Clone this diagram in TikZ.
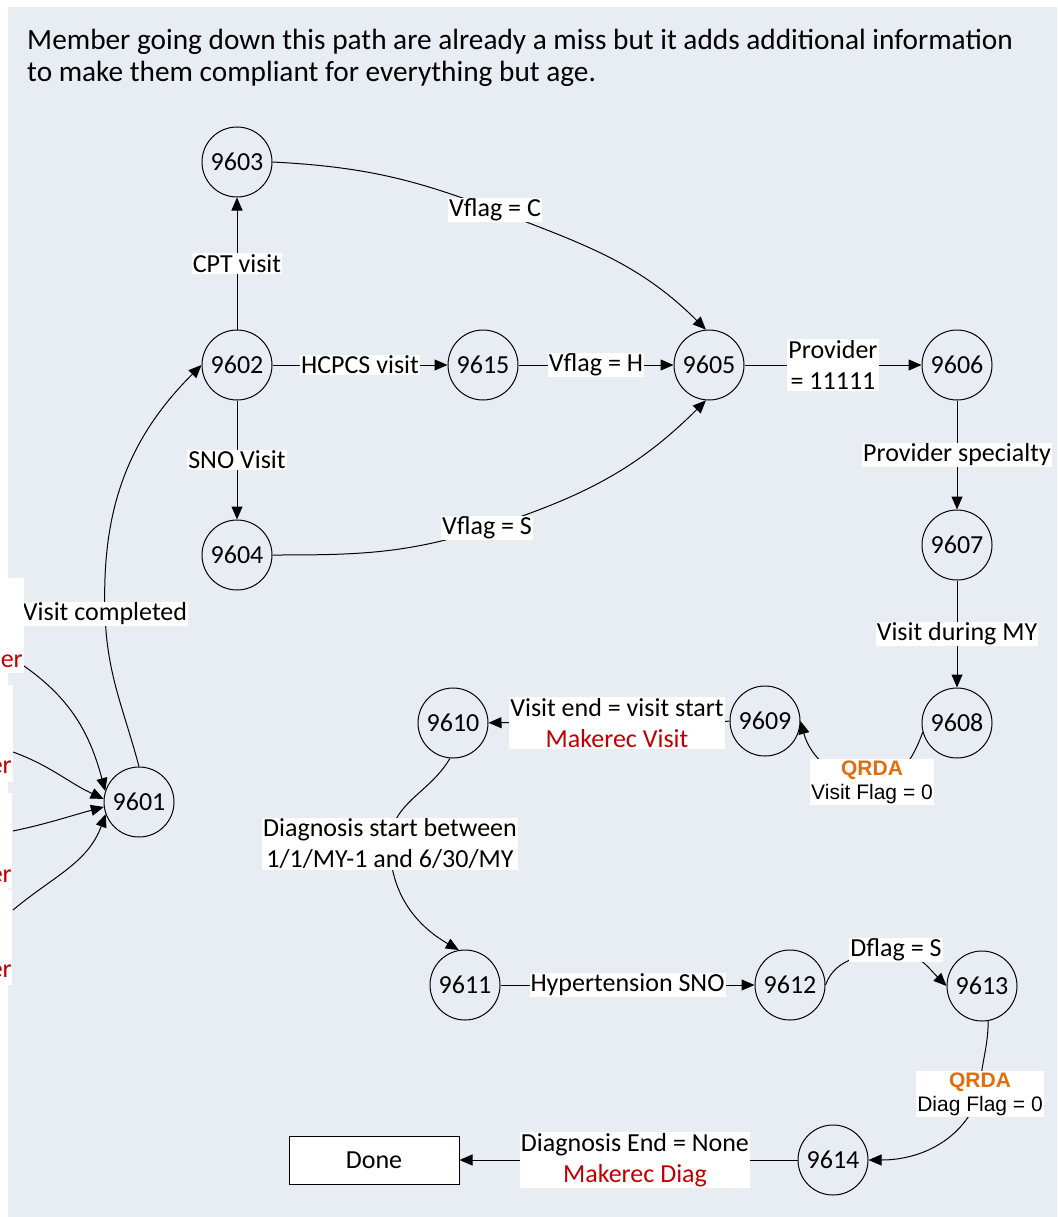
\documentclass[tikz,border=0pt]{standalone}
\usepackage{fontspec}
\setmainfont{Carlito}
\newfontfamily\arialf{Liberation Sans}
\usetikzlibrary{arrows.meta}
\definecolor{bgc}{HTML}{E8EDF4}
\definecolor{redt}{HTML}{C00000}
\definecolor{orq}{HTML}{E46C0A}
\begin{document}
\begin{tikzpicture}[x=1pt,y=1pt,
  state/.style={circle,draw,line width=1pt,minimum size=70pt,inner sep=0pt,font=\fontsize{26}{30}\selectfont},
  lab/.style={fill=white,inner sep=1pt,font=\fontsize{26}{31}\selectfont,align=center},
  qlab/.style={fill=white,inner sep=1.5pt,font=\arialf\fontsize{21}{24}\selectfont,align=center},
  arr/.style={-{Triangle[length=13pt,width=11pt]},line width=1pt},
  frag/.style={fill=white,inner sep=0pt,anchor=north west},
  fragtxt/.style={anchor=base east,inner sep=0pt,text=redt,font=\fontsize{26}{30}\selectfont}]
\useasboundingbox (0,0) rectangle (1057,-1217);
\fill[white] (0,0) rectangle (1057,-1217);
\fill[bgc] (8,-7) rectangle (1057,-1217);

\node[anchor=base west,align=left,inner sep=0pt,font=\fontsize{29.3}{32}\selectfont] (intro) at (27,-82)
  {Member going down this path are already a miss but it adds additional information\\to make them compliant for everything but age.};

% states
\node[state] (n9603) at (237,-162) {9603};
\node[state] (n9602) at (237,-365) {9602};
\node[state] (n9604) at (237,-555) {9604};
\node[state] (n9615) at (483,-365) {9615};
\node[state] (n9605) at (709,-365) {9605};
\node[state] (n9606) at (957,-365) {9606};
\node[state] (n9607) at (957,-545) {9607};
\node[state] (n9608) at (957,-723) {9608};
\node[state] (n9609) at (765,-721) {9609};
\node[state] (n9610) at (453,-723) {9610};
\node[state] (n9601) at (139,-802) {9601};
\node[state] (n9611) at (465,-985) {9611};
\node[state] (n9612) at (790,-985) {9612};
\node[state] (n9613) at (982,-986) {9613};
\node[state] (n9614) at (833,-1160) {9614};
\node[draw,fill=white,line width=1pt,minimum width=170pt,minimum height=48pt,inner sep=0pt,
  font=\fontsize{26}{30}\selectfont] (done) at (374,-1160) {Done};

% label positions
\coordinate (cvc) at (495,-210);
\coordinate (cvs) at (487,-528);
\coordinate (cvcomp) at (105,-614);
\coordinate (cqv) at (872,-782);
\coordinate (cds) at (390,-844);
\coordinate (cdf) at (896,-950);
\coordinate (cqd) at (980,-1094);
\coordinate (sA) at (24,-666);
\coordinate (sB) at (13,-752);
\coordinate (sC) at (13,-831);
\coordinate (sD) at (13,-910);

% straight edges
\draw[arr] (n9602) -- node[lab] (lcpt) {CPT visit} (n9603);
\draw[arr] (n9602) -- node[lab] (lhc) {HCPCS visit} (n9615);
\draw[arr] (n9602) -- node[lab] (lsno) {SNO Visit} (n9604);
\draw[arr] (n9615) -- node[lab] (lvh) {Vflag = H} (n9605);
\draw[arr] (n9605) -- node[lab] (lprov) {Provider\\= 11111} (n9606);
\draw[arr] (n9606) -- node[lab] (lspec) {Provider specialty} (n9607);
\draw[arr] (n9607) -- node[lab] (lmy) {Visit during MY} (n9608);
\draw[arr] (n9611) -- node[lab] (lhyp) {Hypertension SNO} (n9612);
\draw[arr] (n9609) -- (n9610);
\draw[arr] (n9614) -- (done);

% curved edges
\draw[arr] (n9603.east) to[out=-3,in=159] (cvc) to[out=-21,in=135] (n9605.95);
\draw[arr] (n9604.east) to[out=0,in=-162] (cvs) to[out=18,in=-135] (n9605.265);
\draw[arr] (n9601.north) to[out=105,in=-88] (cvcomp) to[out=92,in=-135] (n9602.west);
\draw[arr] (n9608.195) to[out=250,in=0] (cqv) to[out=180,in=-75] (n9609.east);
\draw[arr] (n9610.265) to[out=240,in=90] (cds) to[out=-90,in=150] (n9611.100);
\draw[arr] (n9612.east) to[out=70,in=190] (cdf) to[out=-10,in=135] (n9613.west);
\draw[arr] (n9613.-80) to[out=-90,in=90] (cqd) to[out=-110,in=0] (n9614.east);
\draw[arr] (sA) to[out=-35,in=105] (n9601.162);
\draw[arr] (sB) to[out=-20,in=155] (n9601.175);
\draw[arr] (sC) to[out=12,in=195] (n9601.188);
\draw[arr] (sD) to[out=40,in=-110] (n9601.200);

% labels on curves
\node[lab] (lvc) at (cvc) {Vflag = C};
\node[lab] (lvs) at (cvs) {Vflag = S};
\node[lab] (lvcomp) at (cvcomp) {Visit completed};
\node[qlab] (lqv) at (cqv) {\textcolor{orq}{\bfseries QRDA}\\Visit Flag = 0};
\node[lab] (lds) at (cds) {Diagnosis start between\\1/1/MY-1 and 6/30/MY};
\node[lab] (ldf) at (cdf) {Dflag = S};
\node[qlab] (lqd) at (cqd) {\textcolor{orq}{\bfseries QRDA}\\Diag Flag = 0};
\node[lab] (lve) at (617,-723) {Visit end = visit start\\\textcolor{redt}{Makerec Visit}};
\node[lab] (lde) at (635,-1160) {Diagnosis End = None\\\textcolor{redt}{Makerec Diag}};

% cut-off labels at the left edge
\node[frag,minimum width=24pt,minimum height=95pt] (f1) at (0,-578) {};
\node[frag,minimum width=13pt,minimum height=97pt] (f2) at (0,-685) {};
\node[frag,minimum width=12pt,minimum height=95pt] (f3) at (0,-793) {};
\node[frag,minimum width=12pt,minimum height=95pt] (f4) at (0,-890) {};
\node[fragtxt] (e1) at (23,-667) {er};
\node[fragtxt] (e2) at (12,-773) {er};
\node[fragtxt] (e3) at (12,-882) {er};
\node[fragtxt] (e4) at (12,-977) {er};
\end{tikzpicture}
\end{document}
